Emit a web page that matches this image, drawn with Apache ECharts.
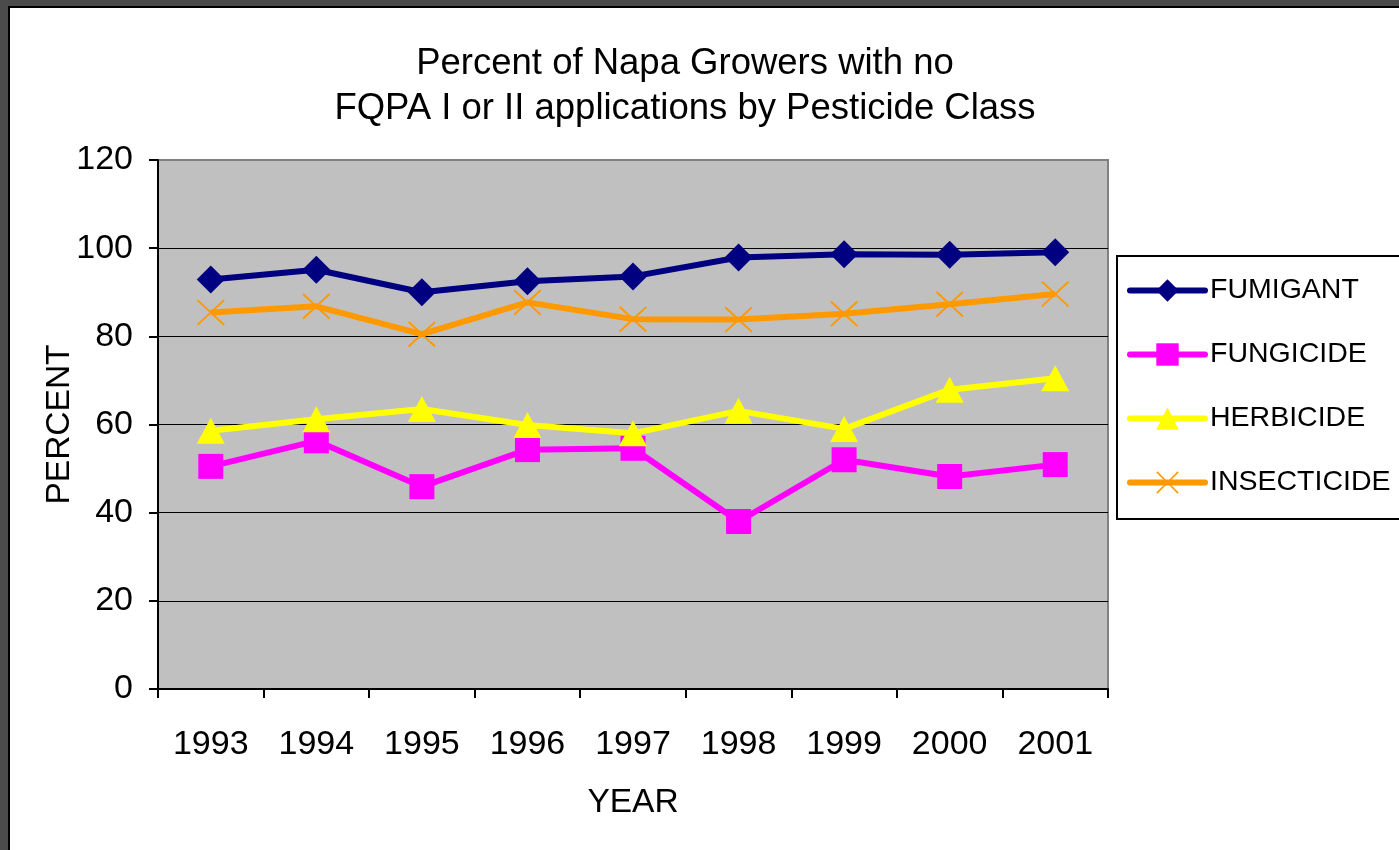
<!DOCTYPE html>
<html>
<head>
<meta charset="utf-8">
<script src="https://cdn.jsdelivr.net/npm/echarts@6/dist/echarts.min.js"></script>
<style>
  html, body { margin: 0; padding: 0; width: 1399px; height: 850px; overflow: hidden; background: #4b4b4b; }
  #frame { position: absolute; left: 8px; top: 6px; width: 1500px; height: 1000px; background: #ffffff; border: 2px solid #000; }
  #chart { position: absolute; left: 0; top: 0; width: 1440px; height: 850px; }
</style>
</head>
<body>
<div id="frame"></div>
<div id="chart"></div>
<script>
const years = ['1993', '1994', '1995', '1996', '1997', '1998', '1999', '2000', '2001'];
const fumigant = [92.9, 95.1, 90.0, 92.5, 93.6, 97.9, 98.6, 98.5, 99.1];
const fungicide = [50.5, 56.3, 45.9, 54.3, 54.6, 38.0, 52.0, 48.2, 50.9];
const herbicide = [58.6, 61.2, 63.5, 59.9, 58.0, 63.1, 59.0, 67.9, 70.5];
const insecticide = [85.4, 86.8, 80.5, 87.7, 83.9, 83.8, 85.1, 87.3, 89.6];

const FONT = '"Liberation Sans", Arial, sans-serif';
const xPath = 'path://M0,5L5,0L50,45L95,0L100,5L55,50L100,95L95,100L50,55L5,100L0,95L45,50Z';

const chart = echarts.init(document.getElementById('chart'), null, { renderer: 'canvas' });

function mk(name, data, color, symbol, size) {
  return {
    name: name, type: 'line', data: data,
    symbol: symbol, symbolSize: size,
    showAllSymbol: true,
    lineStyle: { color: color, width: 6 },
    itemStyle: { color: color },
    emphasis: { disabled: true }
  };
}

chart.setOption({
  animation: false,
  backgroundColor: 'transparent',
  title: {
    text: 'Percent of Napa Growers with no\nFQPA I or II applications by Pesticide Class',
    left: 680, top: 36, textAlign: 'center',
    textStyle: { fontFamily: FONT, fontSize: 36.5, fontWeight: 'normal', color: '#000', lineHeight: 45 }
  },
  legend: {
    orient: 'vertical',
    left: 1117, top: 256,
    backgroundColor: '#fff',
    borderColor: '#000', borderWidth: 2,
    padding: [20, 24, 22, 10],
    itemWidth: 75, itemHeight: 28, itemGap: 35,
    lineStyle: { width: 6, cap: 'round' },
    textStyle: { fontFamily: FONT, fontSize: 28.5, color: '#000' },
    data: ['FUMIGANT', 'FUNGICIDE', 'HERBICIDE', 'INSECTICIDE']
  },
  grid: {
    left: 158, top: 160, width: 950, height: 529,
    show: true, backgroundColor: '#c0c0c0', borderColor: '#808080', borderWidth: 2
  },
  xAxis: {
    type: 'category', data: years, boundaryGap: true,
    name: 'YEAR', nameLocation: 'middle', nameGap: 97, nameMoveOverlap: false,
    nameTextStyle: { fontFamily: FONT, fontSize: 33.5, color: '#000' },
    axisLine: { show: true, lineStyle: { color: '#000', width: 2 } },
    axisTick: { show: true, length: 9, lineStyle: { color: '#000', width: 2 } },
    axisLabel: { fontFamily: FONT, fontSize: 34, color: '#000', margin: 39 },
    splitLine: { show: false }
  },
  yAxis: {
    type: 'value', min: 0, max: 120, interval: 20,
    name: 'PERCENT', nameLocation: 'middle', nameGap: 81, nameMoveOverlap: false,
    nameTextStyle: { fontFamily: FONT, fontSize: 33.5, color: '#000' },
    axisLine: { show: true, lineStyle: { color: '#000', width: 2 } },
    axisTick: { show: true, length: 9, lineStyle: { color: '#000', width: 2 } },
    axisLabel: { fontFamily: FONT, fontSize: 34, color: '#000', margin: 25 },
    splitLine: { show: true, lineStyle: { color: ['#000', '#000', '#000', '#000', '#000', '#000', '#808080'], width: 1 } }
  },
  series: [
    mk('FUMIGANT', fumigant, '#000080', 'diamond', [28, 28]),
    mk('FUNGICIDE', fungicide, '#ff00ff', 'rect', [25, 25]),
    mk('HERBICIDE', herbicide, '#ffff00', 'triangle', [28, 26]),
    mk('INSECTICIDE', insecticide, '#ff9900', xPath, [28, 26])
  ]
});
</script>
</body>
</html>
